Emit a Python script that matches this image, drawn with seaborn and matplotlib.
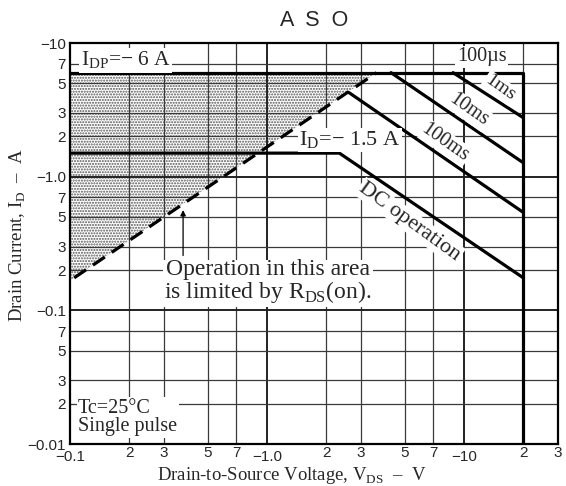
import matplotlib
matplotlib.use("Agg")
import matplotlib.pyplot as plt
import seaborn as sns
from matplotlib.ticker import FixedLocator, FixedFormatter

# ---- data (V_DS in volts, I_D in amps, magnitudes) ----
vds_dc = [0.1, 2.33, 20.0]
id_dc = [1.5, 1.5, 0.175]
vds_100ms = [2.61, 20.0]
id_100ms = [4.25, 0.54]
vds_10ms = [4.26, 20.0]
id_10ms = [6.0, 1.27]
vds_1ms = [8.8, 20.0]
id_1ms = [6.0, 2.76]
vds_100us = [0.1, 20.0, 20.0]
id_100us = [6.0, 6.0, 0.01]
vds_rds = [0.105, 3.6]
id_rds = [0.175, 6.0]
shade_vds = [0.1, 3.6, 0.1]
shade_id = [0.167, 6.0, 6.0]

x_major = [0.1, 1.0, 10.0]
x_major_labels = ["\u22120.1", "\u22121.0", "\u221210"]
x_minor = [0.2, 0.3, 0.5, 0.7, 2, 3, 5, 7, 20, 30]
x_minor_labels = ["2", "3", "5", "7", "2", "3", "5", "7", "2", "3"]
y_major = [0.01, 0.1, 1.0, 10.0]
y_major_labels = ["\u22120.01", "\u22120.1", "\u22121.0", "\u221210"]
y_minor = [0.02, 0.03, 0.05, 0.07, 0.2, 0.3, 0.5, 0.7, 2, 3, 5, 7]
y_minor_labels = ["2", "3", "5", "7"] * 3

sns.set_theme(style="white")
plt.rcParams['font.family'] = ['Liberation Serif', 'DejaVu Serif']
plt.rcParams['mathtext.fontset'] = 'custom'
plt.rcParams['mathtext.rm'] = 'Liberation Serif'
plt.rcParams['hatch.linewidth'] = 1.0

fig = plt.figure(figsize=(5.66, 4.86), dpi=100)
ax = fig.add_axes([70 / 566, 1 - 444 / 486, 488 / 566, 401 / 486])
ax.set_xscale('log')
ax.set_yscale('log')

# shaded region limited by RDS(on)
ax.fill(shade_vds, shade_id, facecolor='white', edgecolor='#555555',
        hatch='......', linewidth=0, zorder=0.3)

lw = 2.3
curves = [(vds_100us, id_100us), (vds_1ms, id_1ms), (vds_10ms, id_10ms),
          (vds_100ms, id_100ms), (vds_dc, id_dc)]
for xs, ys in curves:
    sns.lineplot(x=xs, y=ys, sort=False, estimator=None, color='black',
                 linewidth=lw, ax=ax, zorder=2)
sns.lineplot(x=vds_rds, y=id_rds, sort=False, estimator=None, color='black',
             linewidth=lw, ax=ax, zorder=2, linestyle=(0, (4.5, 2.6)))

ax.set_xlim(0.1, 30)
ax.set_ylim(0.01, 10)

ax.xaxis.set_major_locator(FixedLocator(x_major))
ax.xaxis.set_major_formatter(FixedFormatter(x_major_labels))
ax.xaxis.set_minor_locator(FixedLocator(x_minor))
ax.xaxis.set_minor_formatter(FixedFormatter(x_minor_labels))
ax.yaxis.set_major_locator(FixedLocator(y_major))
ax.yaxis.set_major_formatter(FixedFormatter(y_major_labels))
ax.yaxis.set_minor_locator(FixedLocator(y_minor))
ax.yaxis.set_minor_formatter(FixedFormatter(y_minor_labels))

for lab in ax.get_xticklabels(which='both') + ax.get_yticklabels(which='both'):
    lab.set_fontfamily('Liberation Sans')
ax.tick_params(axis='x', which='major', length=0, pad=4, labelsize=11)
ax.tick_params(axis='x', which='minor', length=0, pad=1.5, labelsize=11)
ax.tick_params(axis='y', which='both', length=0, pad=3, labelsize=11)

ax.set_axisbelow(True)
ax.grid(which='major', color='#222222', linewidth=1.4)
ax.grid(which='minor', color='#3a3a3a', linewidth=0.9)
for s in ax.spines.values():
    s.set_color('black')
    s.set_linewidth(1.6)

ax.set_xlabel("Drain-to-Source Voltage, V$_\\mathregular{DS}$  \u2013  V",
              fontsize=13.5, va='baseline')
ax.xaxis.set_label_coords((292 - 70) / 488, -(480 - 444) / 401)
ax.set_ylabel("Drain Current, I$_\\mathregular{D}$  \u2013  A",
              fontsize=13.5, va='baseline')
ax.yaxis.set_label_coords(-(70 - 23) / 488, (444 - 235) / 401)
fig.text(314 / 566, 1 - 21 / 486, "A  S  O", ha='center', va='center',
         family='Liberation Sans', fontsize=15.5)

box = dict(facecolor='white', edgecolor='none', pad=1.0)
ax.text(0.192, 7.4, "I$_\\mathregular{DP}$=\u2212 6 A", fontsize=15.5,
        ha='center', va='center', bbox=box, zorder=3)
ax.text(12.3, 7.9, "100\u00b5s", fontsize=14.5, ha='center', va='center',
        bbox=box, zorder=3)
ax.text(15.2, 4.6, "1ms", fontsize=14, ha='center', va='center',
        rotation=-35, rotation_mode='anchor', bbox=box, zorder=3)
ax.text(10.5, 3.17, "10ms", fontsize=14.5, ha='center', va='center',
        rotation=-35, rotation_mode='anchor', bbox=box, zorder=3)
ax.text(8.0, 1.8, "100ms", fontsize=14.5, ha='center', va='center',
        rotation=-35, rotation_mode='anchor', bbox=box, zorder=3)
ax.text(5.3, 0.46, "DC operation", fontsize=16, ha='center', va='center',
        rotation=-36, rotation_mode='anchor', bbox=box, zorder=3)
ax.text(2.64, 1.89, "I$_\\mathregular{D}$=\u2212 1.5 A", fontsize=16,
        ha='center', va='center', bbox=box, zorder=3)
ax.text(1.01, 0.162, "Operation in this area\nis limited by R$_\\mathregular{DS}$(on).",
        fontsize=17, ha='center', va='center', linespacing=0.95,
        bbox=box, zorder=3)
ax.text(0.1098, 0.0158, "Tc=25\u00b0C\nSingle pulse", fontsize=14.5,
        ha='left', va='center', linespacing=0.95, bbox=box, zorder=3)
ax.annotate('', xy=(0.375, 0.59), xytext=(0.375, 0.245),
            arrowprops=dict(arrowstyle='-|>', lw=0.9, color='black',
                            mutation_scale=8), zorder=3)

fig.savefig("out.png", dpi=100)
